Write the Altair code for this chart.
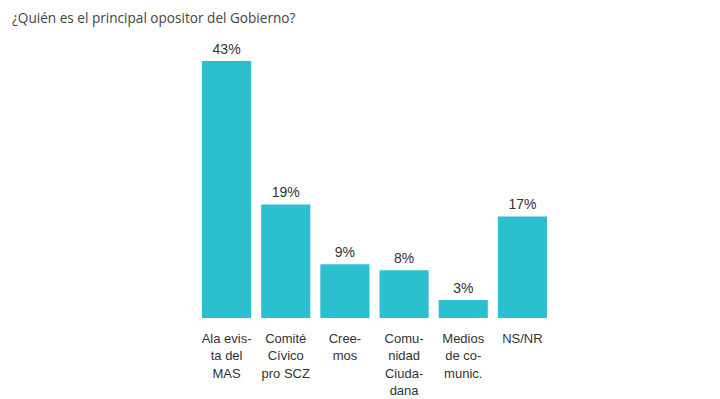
import altair as alt
import pandas as pd

title_text = "¿Quién es el principal opositor del Gobierno?"
categories = [
    "Ala evis-|ta del|MAS",
    "Comité|Cívico|pro SCZ",
    "Cree-|mos",
    "Comu-|nidad|Ciuda-|dana",
    "Medios|de co-|munic.",
    "NS/NR",
]
values = [43, 19, 9, 8, 3, 17]
value_labels = ["43%", "19%", "9%", "8%", "3%", "17%"]

df = pd.DataFrame({"cat": categories, "val": values, "lab": value_labels})

x_enc = alt.X(
    "cat:N",
    sort=categories,
    scale=alt.Scale(paddingInner=0.17, paddingOuter=0.085),
    axis=alt.Axis(
        title=None,
        domain=False,
        ticks=False,
        labelAngle=0,
        labelExpr="split(datum.label, '|')",
        labelFont="Liberation Sans",
        labelFontSize=13,
        labelColor="#333333",
        labelLineHeight=17.5,
        labelPadding=14,
        labelBaseline="top",
    ),
)
y_enc = alt.Y("val:Q", scale=alt.Scale(domain=[0, 43], nice=False, zero=True), axis=None)

base = alt.Chart(df)
bars = base.mark_bar(color="#2BBFCF").encode(x=x_enc, y=y_enc)
texts = base.mark_text(
    baseline="alphabetic", dy=-7, font="Liberation Sans", fontSize=14, color="#333333"
).encode(x=x_enc, y=y_enc, text="lab:N")

title_df = pd.DataFrame({"t": [title_text]})
title = alt.Chart(title_df).mark_text(
    align="left", baseline="alphabetic", font="Open Sans", fontSize=13.6, color="#444444"
).encode(x=alt.value(-185), y=alt.value(-38), text="t:N")

chart = (
    alt.layer(bars, texts, title)
    .properties(
        width=355,
        height=257,
        autosize=alt.AutoSizeParams(type="none"),
        padding={"left": 189, "top": 53, "right": 150, "bottom": 80},
    )
    .configure_view(stroke=None)
)

chart.save("out.html", embed_options={"renderer": "svg", "actions": False})
